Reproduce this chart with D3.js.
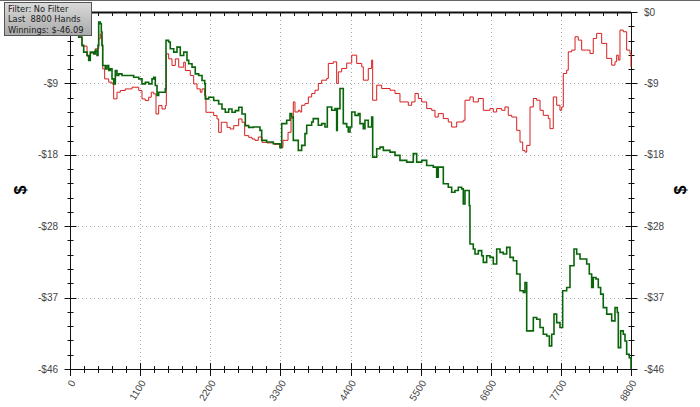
<!DOCTYPE html>
<html>
<head>
<meta charset="utf-8">
<script src="https://cdn.jsdelivr.net/npm/d3@7"></script>
<style>
  body { margin: 0; background: #fff; }
  svg { display: block; }
</style>
</head>
<body>
<svg width="700" height="407"></svg>
<script>
// winnings over hands
var greenHands = [0, 94, 136, 188, 215, 267, 293, 318, 372, 397, 424, 439, 450, 475, 491, 502, 513, 554, 580, 607,
  632, 659, 685, 711, 737, 764, 816, 921, 999, 1078, 1129, 1181, 1234, 1286, 1313, 1338, 1365, 1391, 1443, 1495,
  1506, 1548, 1573, 1627, 1678, 1730, 1784, 1835, 1862, 1914, 1965, 2019, 2071, 2113, 2122, 2176, 2254, 2332, 2384, 2436,
  2489, 2541, 2593, 2646, 2698, 2750, 2803, 2876, 2980, 3007, 3085, 3189, 3294, 3321, 3399, 3451, 3478, 3503, 3581, 3634,
  3686, 3713, 3791, 3816, 3895, 3948, 4000, 4036, 4105, 4157, 4183, 4193, 4235, 4278, 4287, 4340, 4365, 4392, 4419, 4471,
  4522, 4549, 4601, 4627, 4679, 4732, 4748, 4811, 4863, 4915, 5020, 5098, 5176, 5282, 5385, 5438, 5517, 5595, 5699, 5752,
  5777, 5831, 5856, 5934, 5987, 6039, 6091, 6144, 6169, 6196, 6248, 6263, 6274, 6326, 6353, 6405, 6458, 6483, 6536, 6588,
  6640, 6693, 6745, 6797, 6850, 6902, 6954, 7007, 7059, 7111, 7137, 7164, 7216, 7268, 7321, 7373, 7424, 7478, 7519, 7556,
  7592, 7634, 7686, 7728, 7791, 7843, 7906, 7948, 8000, 8052, 8105, 8146, 8183, 8208, 8251, 8287, 8324, 8365, 8419, 8497,
  8549, 8585, 8601, 8638, 8679, 8706, 8732, 8773, 8800];
var greenWin = [0, -2.07, -3.24, -4.31, -5.18, -5.61, -6.25, -5.18, -5.40, -4.96, -5.61, -4.31, -1.29, -1.51, -2.59, -4.31, -6.90, -7.34, -6.90, -7.55,
  -7.34, -8.64, -9.28, -7.55, -8.20, -7.99, -8.20, -8.20, -8.42, -8.64, -9.28, -9.06, -9.28, -8.64, -8.42, -9.49, -10.78, -10.36, -10.36, -9.93,
  -3.66, -3.88, -4.75, -5.18, -4.53, -5.61, -5.18, -6.25, -6.69, -7.12, -7.99, -8.20, -8.84, -9.28, -11.22, -11.00, -11.43, -11.87, -12.52, -12.95,
  -12.52, -12.95, -12.73, -12.30, -13.17, -14.67, -14.89, -14.85, -15.28, -16.57, -16.79, -17.00, -17.52, -14.41, -13.98, -13.12, -13.56, -16.57, -17.87, -17.22,
  -15.70, -14.63, -14.20, -13.76, -14.63, -14.41, -14.85, -12.26, -12.69, -12.47, -15.28, -12.47, -9.88, -9.88, -14.41, -14.85, -15.50, -14.85, -12.91, -13.34,
  -13.12, -14.41, -15.06, -13.98, -14.85, -13.56, -18.73, -17.65, -17.44, -17.87, -18.09, -18.51, -19.16, -19.38, -18.29, -19.38, -19.16, -19.81, -20.03, -21.32,
  -20.03, -20.03, -22.18, -22.62, -23.27, -23.05, -22.62, -22.83, -24.77, -23.05, -23.05, -24.99, -29.95, -30.59, -31.24, -30.81, -31.46, -32.33, -31.46, -31.68,
  -32.54, -30.59, -31.03, -31.24, -30.39, -31.68, -32.11, -33.83, -35.99, -36.21, -34.92, -41.17, -41.17, -39.45, -39.66, -40.74, -41.60, -41.82, -43.11, -41.60,
  -39.01, -40.10, -40.74, -35.99, -35.57, -32.76, -30.59, -31.24, -31.89, -31.89, -32.54, -33.83, -35.57, -34.27, -34.48, -35.57, -36.42, -38.16, -39.01, -39.88,
  -38.16, -38.80, -43.33, -41.17, -41.60, -42.47, -44.19, -44.63, -46.09];

var redHands = [0, 136, 188, 267, 318, 397, 450, 475, 491, 502, 513, 544, 607, 659, 685, 737, 789, 867, 973, 1078,
  1129, 1181, 1234, 1275, 1313, 1349, 1391, 1443, 1495, 1511, 1548, 1600, 1652, 1705, 1784, 1809, 1887, 1940, 1992, 2044,
  2071, 2113, 2133, 2201, 2254, 2306, 2332, 2373, 2411, 2463, 2514, 2568, 2646, 2698, 2740, 2803, 2855, 2902, 2954, 3012,
  3090, 3200, 3294, 3341, 3420, 3467, 3503, 3529, 3581, 3608, 3634, 3686, 3738, 3791, 3843, 3895, 3948, 4027, 4052, 4130,
  4183, 4209, 4262, 4340, 4419, 4497, 4576, 4601, 4679, 4732, 4748, 4811, 4889, 5020, 5098, 5176, 5255, 5307, 5360, 5412,
  5464, 5517, 5595, 5674, 5725, 5777, 5856, 5934, 5987, 6066, 6169, 6196, 6274, 6326, 6405, 6483, 6588, 6640, 6693, 6771,
  6823, 6875, 6929, 7007, 7059, 7101, 7137, 7164, 7216, 7268, 7321, 7373, 7424, 7503, 7529, 7581, 7634, 7686, 7713, 7738,
  7791, 7816, 7869, 7922, 7973, 8026, 8105, 8157, 8208, 8262, 8340, 8419, 8497, 8549, 8575, 8601, 8627, 8679, 8732, 8784, 8800];
var redWin = [0, -3.24, -4.40, -5.70, -5.31, -4.75, -3.46, -2.81, -3.24, -4.31, -7.34, -8.64, -9.06, -9.28, -11.22, -10.36, -10.14, -9.93, -9.71, -10.14,
  -11.22, -11.43, -11.00, -10.36, -10.58, -13.17, -12.08, -12.52, -12.08, -5.40, -6.05, -6.90, -6.05, -7.12, -6.47, -7.55, -8.20, -9.28, -9.93, -10.36,
  -9.93, -10.78, -12.95, -12.95, -13.37, -13.81, -15.54, -14.24, -14.24, -14.89, -15.11, -14.67, -13.81, -14.24, -15.96, -16.18, -16.40, -16.57, -16.14, -16.83,
  -16.90, -17.09, -17.48, -16.57, -15.54, -13.72, -11.61, -12.91, -12.69, -12.91, -12.04, -11.82, -10.97, -10.53, -10.10, -9.23, -8.80, -8.58, -6.64, -6.43,
  -9.23, -7.73, -7.29, -6.60, -5.57, -6.64, -7.08, -8.80, -7.29, -6.21, -11.39, -9.45, -9.88, -10.10, -10.53, -11.61, -11.61, -12.04, -11.61, -10.53,
  -11.17, -11.61, -12.47, -12.69, -13.56, -13.12, -13.76, -14.20, -14.85, -14.20, -13.98, -11.39, -10.97, -11.61, -11.17, -12.69, -12.47, -12.91, -12.47, -12.69,
  -12.26, -13.34, -13.56, -15.28, -16.79, -17.87, -18.09, -17.22, -12.26, -11.17, -11.39, -12.69, -13.34, -13.76, -15.06, -10.97, -12.04, -12.69, -12.26, -7.94,
  -7.51, -5.14, -4.92, -3.20, -3.63, -4.92, -4.92, -5.35, -3.41, -2.76, -4.05, -5.99, -6.86, -6.43, -5.57, -6.21, -2.33, -2.55, -4.92, -5.35, -7.08];

var handsMax = 8800;
var winMin = -46.09;
var legendLines = ["Filter: No Filter", "Last  8800 Hands", "Winnings: $-46.09"];

var svg = d3.select("svg"),
    width = +svg.attr("width"),
    height = +svg.attr("height");

var x = d3.scaleLinear().domain([0, handsMax]).range([70, 631]);
var y = d3.scaleLinear().domain([winMin, 0]).range([369, 12]);

var xMajor = d3.range(0, handsMax + 1, 1100);
var xMinor = d3.range(0, handsMax + 1, 220);
var yMajor = d3.range(0, 6).map(function (i) { return winMin * i / 5; });
var yMinor = d3.range(0, 26).map(function (i) { return winMin * i / 25; });

function money(v) {
    var r = Math.round(v);
    return r < 0 ? "-$" + Math.abs(r) : "$" + r;
}

// top frame line of the window
svg.append("line").attr("x1", 0).attr("x2", width).attr("y1", 0.5).attr("y2", 0.5)
    .attr("stroke", "#666").attr("stroke-width", 1);

// grid
svg.append("g").selectAll("line")
    .data(xMajor.slice(1, -1)).enter().append("line")
    .attr("x1", function (d) { return Math.round(x(d)) + 0.5; })
    .attr("x2", function (d) { return Math.round(x(d)) + 0.5; })
    .attr("y1", y(0)).attr("y2", y(winMin))
    .attr("stroke", "#aaa").attr("stroke-dasharray", "1,3");
svg.append("g").selectAll("line")
    .data(yMajor.slice(1, -1)).enter().append("line")
    .attr("y1", function (d) { return Math.round(y(d)) + 0.5; })
    .attr("y2", function (d) { return Math.round(y(d)) + 0.5; })
    .attr("x1", x(0)).attr("x2", x(handsMax))
    .attr("stroke", "#aaa").attr("stroke-dasharray", "1,3");

// axes lines
var axes = svg.append("g").attr("stroke", "#111").attr("stroke-width", 1);
axes.append("line").attr("x1", 70.5).attr("x2", 70.5).attr("y1", y(0)).attr("y2", y(winMin));
axes.append("line").attr("x1", 631.5).attr("x2", 631.5).attr("y1", y(0)).attr("y2", y(winMin));
axes.append("line").attr("x1", x(0)).attr("x2", x(handsMax) + 6).attr("y1", 369.5).attr("y2", 369.5);
axes.append("line").attr("x1", x(0)).attr("x2", x(handsMax)).attr("y1", 12.5).attr("y2", 12.5)
    .attr("stroke-width", 2);

// ticks crossing the axes
function isMajorX(d) { return d % 1100 === 0; }
axes.selectAll(".xt").data(xMinor).enter().append("line")
    .attr("x1", function (d) { return Math.round(x(d)) + 0.5; })
    .attr("x2", function (d) { return Math.round(x(d)) + 0.5; })
    .attr("y1", function (d) { return isMajorX(d) ? 363 : 366; })
    .attr("y2", function (d) { return isMajorX(d) ? 376 : 373; });
axes.selectAll(".xtop").data(xMinor).enter().append("line")
    .attr("x1", function (d) { return Math.round(x(d)) + 0.5; })
    .attr("x2", function (d) { return Math.round(x(d)) + 0.5; })
    .attr("y1", 12).attr("y2", 16);
[70.5, 631.5].forEach(function (ax) {
    axes.append("g").selectAll("line").data(yMinor).enter().append("line")
        .attr("y1", function (d) { return Math.round(y(d)) + 0.5; })
        .attr("y2", function (d) { return Math.round(y(d)) + 0.5; })
        .attr("x1", function (d, i) { return ax - (i % 5 === 0 ? 6 : 3); })
        .attr("x2", function (d, i) { return ax + (i % 5 === 0 ? 6 : 3); });
});

// tick labels ($0 on the left sits under the info box, so it is skipped)
var labelFont = "Liberation Sans, Arial, sans-serif";
svg.append("g").selectAll("text").data(yMajor.slice(1)).enter().append("text")
    .attr("x", 58).attr("y", function (d) { return y(d); }).attr("dy", "0.35em")
    .attr("text-anchor", "end").attr("font-family", labelFont).attr("font-size", 10)
    .attr("fill", "#444").text(money);
svg.append("g").selectAll("text").data(yMajor).enter().append("text")
    .attr("x", 644).attr("y", function (d) { return y(d); }).attr("dy", "0.35em")
    .attr("font-family", labelFont).attr("font-size", 10)
    .attr("fill", "#444").text(money);
svg.append("g").selectAll("text").data(xMajor).enter().append("text")
    .attr("transform", function (d) { return "translate(" + (x(d) + 3) + ",381) rotate(-58)"; })
    .attr("dy", "0.35em").attr("text-anchor", "end")
    .attr("font-family", labelFont).attr("font-size", 10)
    .attr("fill", "#444").text(function (d) { return d; });

// axis titles
[[20, 190], [680, 190]].forEach(function (p) {
    svg.append("text")
        .attr("transform", "translate(" + p[0] + "," + p[1] + ") rotate(-90)")
        .attr("text-anchor", "middle").attr("dy", "0.35em")
        .attr("font-family", labelFont).attr("font-weight", "bold").attr("font-size", 16)
        .attr("fill", "#000").text("$");
});

// lines (hand-by-hand, so steps)
var line = d3.line()
    .curve(d3.curveStepAfter)
    .x(function (d) { return x(d[0]); })
    .y(function (d) { return y(d[1]); });

svg.append("path")
    .datum(d3.zip(redHands, redWin))
    .attr("fill", "none").attr("stroke", "#d81e1e").attr("stroke-width", 1)
    .attr("d", line);
svg.append("path")
    .datum(d3.zip(greenHands, greenWin))
    .attr("fill", "none").attr("stroke", "#0a650a").attr("stroke-width", 1.6)
    .attr("d", line);

// info box
var defs = svg.append("defs");
var grad = defs.append("linearGradient").attr("id", "boxfill")
    .attr("x1", 0).attr("y1", 0).attr("x2", 0).attr("y2", 1);
grad.append("stop").attr("offset", "0%").attr("stop-color", "#dadada");
grad.append("stop").attr("offset", "100%").attr("stop-color", "#a9a9a9");

svg.append("rect").attr("x", 4.5).attr("y", 2.5).attr("width", 87).attr("height", 33)
    .attr("fill", "url(#boxfill)").attr("stroke", "#555");
svg.append("g").selectAll("text").data(legendLines).enter().append("text")
    .attr("x", 8).attr("y", function (d, i) { return 11.5 + i * 10.6; })
    .attr("font-family", "DejaVu Sans, sans-serif").attr("font-size", 8.3)
    .attr("fill", "#1a1a1a")
    .style("white-space", "pre")
    .text(function (d) { return d; });
</script>
</body>
</html>
